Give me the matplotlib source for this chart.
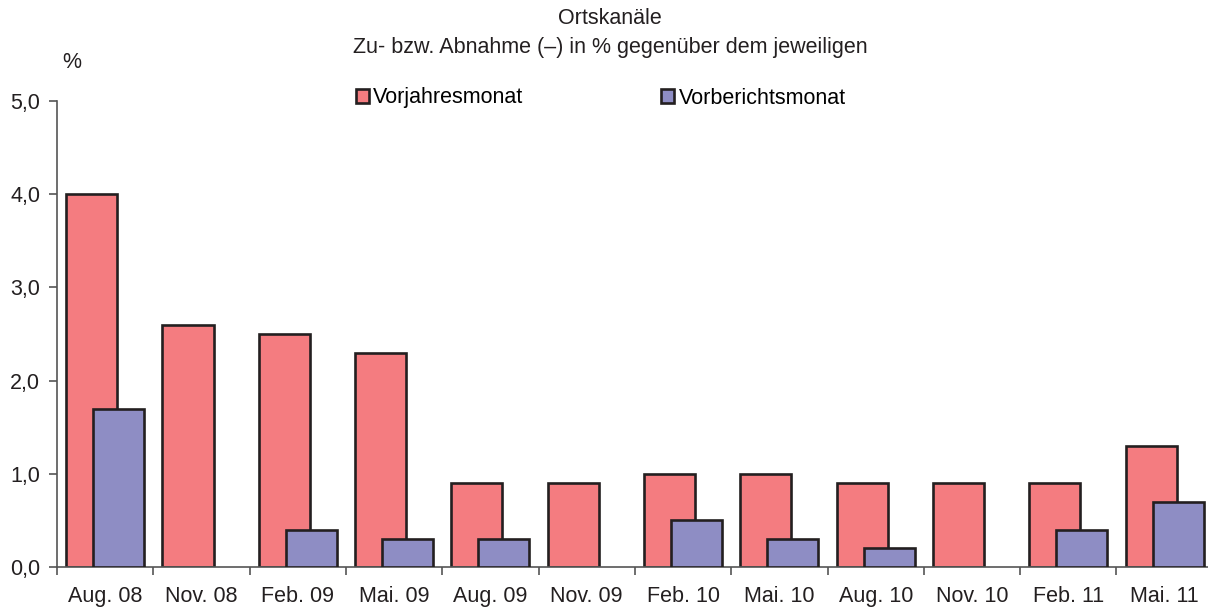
import numpy as np
import matplotlib.pyplot as plt
from matplotlib.ticker import FixedLocator

plt.rcParams['font.family'] = ['Liberation Sans', 'DejaVu Sans']

# Data
monate = ['Aug. 08', 'Nov. 08', 'Feb. 09', 'Mai. 09', 'Aug. 09', 'Nov. 09',
          'Feb. 10', 'Mai. 10', 'Aug. 10', 'Nov. 10', 'Feb. 11', 'Mai. 11']
vorjahresmonat = [4.0, 2.6, 2.5, 2.3, 0.9, 0.9, 1.0, 1.0, 0.9, 0.9, 0.9, 1.3]
vorberichtsmonat = [1.7, np.nan, 0.4, 0.3, 0.3, np.nan, 0.5, 0.3, 0.2, np.nan, 0.4, 0.7]

rot = '#F47C80'
lila = '#8E8DC4'
rand = '#231F20'
fs = 15.5

fig = plt.figure(figsize=(12.08, 6.10), dpi=100)
ax = fig.add_axes([57 / 1208, 43 / 610, 1 - 57 / 1208, (567 - 101) / 610])

x = np.arange(len(monate))
vb = np.array(vorberichtsmonat, dtype=float)
mask = ~np.isnan(vb)

ax.bar(x - 0.14, vorjahresmonat, width=0.53, color=rot, edgecolor=rand,
       linewidth=1.9, label='Vorjahresmonat', zorder=2)
ax.bar(x[mask] + 0.14, vb[mask], width=0.53, color=lila, edgecolor=rand,
       linewidth=1.9, label='Vorberichtsmonat', zorder=3)

ax.set_ylim(0, 5)
ax.set_xlim(-0.5, 11.45)
ax.set_yticks(np.arange(0, 5.01, 1.0))
ax.set_yticklabels([f'{v:.1f}'.replace('.', ',') for v in np.arange(0, 5.01, 1.0)])
ax.set_xticks(x)
ax.set_xticklabels(monate)
ax.xaxis.set_minor_locator(FixedLocator(np.arange(-0.5, 12, 1.0)))
ax.tick_params(axis='x', which='major', length=0, pad=14, labelsize=fs, colors='#231F20')
ax.tick_params(axis='x', which='minor', length=6, width=1.2, color='#555555')
ax.tick_params(axis='y', length=6, width=1.2, color='#555555', labelsize=fs,
               labelcolor='#231F20', pad=6)

for s in ['top', 'right']:
    ax.spines[s].set_visible(False)
for s in ['left', 'bottom']:
    ax.spines[s].set_color('#555555')
    ax.spines[s].set_linewidth(1.2)

fig.text(0.505, 1 - 18 / 610, 'Ortskanäle', ha='center', va='center', fontsize=fs, color='#231F20')
fig.text(0.505, 1 - 48 / 610, 'Zu- bzw. Abnahme (–) in % gegenüber dem jeweiligen',
         ha='center', va='center', fontsize=fs, color='#231F20')
fig.text(72 / 1208, 1 - 63 / 610, '%', ha='center', va='center', fontsize=fs, color='#231F20')

ax.legend(loc='center left', bbox_to_anchor=(356 / 1208, 1 - 98 / 610),
          bbox_transform=fig.transFigure, ncol=2, frameon=False, fontsize=fs,
          handlelength=0.6, handleheight=0.6, handletextpad=0.2,
          columnspacing=6.4, borderpad=0, borderaxespad=0)

fig.savefig('out.png', dpi=100)
